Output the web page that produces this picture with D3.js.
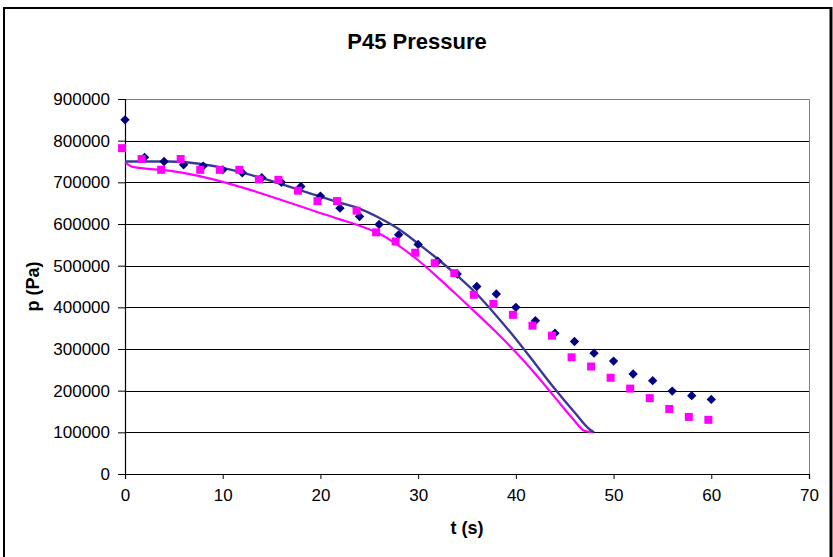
<!DOCTYPE html>
<html>
<head>
<meta charset="utf-8">
<script src="https://cdn.jsdelivr.net/npm/d3@7"></script>
<style>
  body { margin: 0; background: #fff; }
  text { font-family: Arial, "Liberation Sans", sans-serif; fill: #000; }
  .title { font-size: 22px; font-weight: bold; }
  .axis-label { font-size: 18px; font-weight: bold; }
  .tick text { font-size: 17px; }
</style>
</head>
<body>
<svg width="833" height="557"></svg>
<script>
// measured series (blue diamonds)
const tMeasA = [0, 2, 4, 6, 8, 10, 12, 14, 16, 18, 20, 22, 24, 26, 28, 30, 32, 34, 36, 38, 40, 42, 44, 46, 48, 50, 52, 54, 56, 58, 60];
const pMeasA = [850000, 760000, 750000, 742000, 739000, 730000, 723000, 711000, 700000, 690000,
                667000, 638000, 618000, 599000, 574000, 551000, 511000, 480000, 450000, 432000,
                400000, 368000, 338000, 318000, 290000, 271000, 240000, 224000, 199000, 188000, 179000];

// measured series (pink squares)
const tMeasB = [-0.3, 1.7, 3.7, 5.7, 7.7, 9.7, 11.7, 13.7, 15.7, 17.7, 19.7, 21.7, 23.7, 25.7, 27.7, 29.7, 31.7, 33.7, 35.7, 37.7, 39.7, 41.7, 43.7, 45.7, 47.7, 49.7, 51.7, 53.7, 55.7, 57.7, 59.7];
const pMeasB = [782000, 756000, 730000, 756000, 730000, 730000, 730000, 707000, 706000, 680000,
                655000, 655000, 632000, 580000, 558000, 531000, 506000, 482000, 430000, 408000,
                382000, 356000, 332000, 280000, 258000, 231000, 205000, 182000, 156000, 137000, 130000];

// simulated curve (blue line)
const tSimA = [0, 4.5, 22, 24, 26, 28, 30, 32, 34, 36, 38, 40, 42, 44, 46, 47.6, 48];
const pSimA = [750000, 750000, 651000, 637000, 615000, 588000, 553000, 516000, 476000, 432000, 380000, 324000, 264000, 204000, 148000, 106000, 100000];

// simulated curve (pink line)
const tSimB = [0, 0.8, 4.5, 22, 24, 26, 28, 30, 32, 34, 36, 38, 40, 42, 44, 46, 47, 48];
const pSimB = [748000, 737000, 728000, 611000, 596000, 577000, 548000, 513000, 472000, 429000, 385000, 340000, 292000, 240000, 184000, 128000, 104000, 100000];

const xTicks = [0, 10, 20, 30, 40, 50, 60, 70];
const yTicks = [0, 100000, 200000, 300000, 400000, 500000, 600000, 700000, 800000, 900000];

const svg = d3.select('svg');
const width = +svg.attr('width');
const height = +svg.attr('height');

const margin = { top: 99, right: 24, bottom: 83, left: 125 };
const innerWidth = width - margin.left - margin.right;
const innerHeight = height - margin.top - margin.bottom;

// outer chart frame (left/top thin, right heavier)
svg.append('path')
    .attr('d', `M4,${height + 5} V8 H830.5 V${height + 5}`)
    .attr('fill', 'none')
    .attr('stroke', '#000')
    .attr('stroke-width', 2);
svg.append('line')
    .attr('x1', 831.5).attr('x2', 831.5)
    .attr('y1', 7).attr('y2', height)
    .attr('stroke', '#000').attr('stroke-width', 2);

const xScale = d3.scaleLinear().domain([0, 70]).range([0, innerWidth]);
const yScale = d3.scaleLinear().domain([0, 900000]).range([innerHeight, 0]);

const g = svg.append('g')
    .attr('transform', `translate(${margin.left}, ${margin.top})`);

// grid lines
g.selectAll('.grid').data(yTicks.filter(d => d > 0 && d < 900000))
    .enter().append('line')
        .attr('class', 'grid')
        .attr('x1', 0).attr('x2', innerWidth)
        .attr('y1', d => Math.round(yScale(d)) + 0.5)
        .attr('y2', d => Math.round(yScale(d)) + 0.5)
        .attr('stroke', '#000');

// plot frame top/right in grey
g.append('path')
    .attr('d', `M0,0.5 H${innerWidth + 0.5} V${innerHeight}`)
    .attr('fill', 'none')
    .attr('stroke', '#808080');

const yAxis = d3.axisLeft(yScale)
    .tickValues(yTicks)
    .tickFormat(d3.format('d'))
    .tickSize(6)
    .tickPadding(9);
const yAxisG = g.append('g').call(yAxis);
yAxisG.selectAll('.tick line').attr('x2', -7).attr('x1', 1);

const xAxis = d3.axisBottom(xScale)
    .tickValues(xTicks)
    .tickSize(5)
    .tickPadding(10);
const xAxisG = g.append('g').call(xAxis)
    .attr('transform', `translate(0, ${innerHeight})`);

svg.selectAll('.domain').attr('stroke', '#000').attr('stroke-width', 1.2);
svg.selectAll('.tick text').attr('font-family', null).attr('font-size', null);

// simulated lines
const line = (ts, ps) => d3.line()
    .x((d, i) => xScale(ts[i]))
    .y(d => yScale(d))
    .curve(d3.curveMonotoneX)(ps);

g.append('path')
    .attr('d', line(tSimB, pSimB))
    .attr('fill', 'none')
    .attr('stroke', '#ff00ff')
    .attr('stroke-width', 2.2);

g.append('path')
    .attr('d', line(tSimA, pSimA))
    .attr('fill', 'none')
    .attr('stroke', '#3a3a96')
    .attr('stroke-width', 2.4);

// diamonds
g.selectAll('.diamond').data(pMeasA)
    .enter().append('path')
        .attr('class', 'diamond')
        .attr('d', d3.symbol(d3.symbolDiamond2, 56)())
        .attr('transform', (d, i) => `translate(${xScale(tMeasA[i])}, ${yScale(d)})`)
        .attr('fill', '#000080');

// squares
g.selectAll('.square').data(pMeasB)
    .enter().append('rect')
        .attr('class', 'square')
        .attr('x', (d, i) => xScale(tMeasB[i]) - 4)
        .attr('y', d => yScale(d) - 4)
        .attr('width', 8)
        .attr('height', 8)
        .attr('fill', '#ff00ff');

// title and axis labels
svg.append('text')
    .attr('class', 'title')
    .attr('text-anchor', 'middle')
    .attr('x', 417)
    .attr('y', 49)
    .text('P45 Pressure');

svg.append('text')
    .attr('class', 'axis-label')
    .attr('text-anchor', 'middle')
    .attr('x', margin.left + innerWidth / 2)
    .attr('y', 534)
    .text('t (s)');

svg.append('text')
    .attr('class', 'axis-label')
    .attr('text-anchor', 'middle')
    .attr('transform', `translate(39, ${margin.top + innerHeight / 2}) rotate(-90)`)
    .text('p (Pa)');
</script>
</body>
</html>
